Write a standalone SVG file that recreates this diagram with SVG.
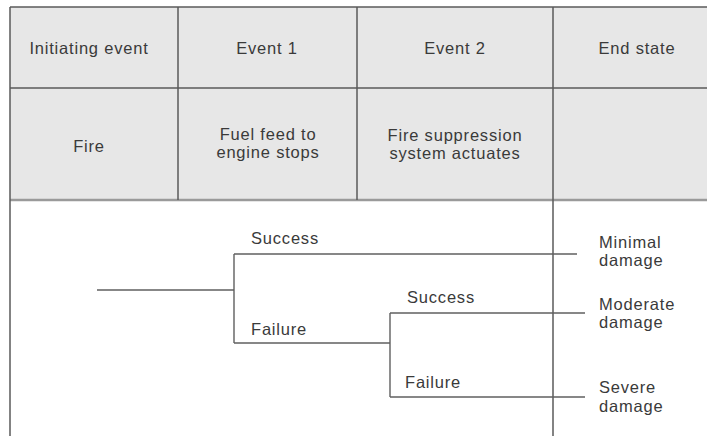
<svg xmlns="http://www.w3.org/2000/svg" width="707" height="436" viewBox="0 0 707 436">
  <style>
    .grid { stroke: #5a5a5a; stroke-width: 1.5; fill: none; }
    .branch { stroke: #5f5f5f; stroke-width: 1.4; fill: none; }
    .lbl { font-family: "Liberation Sans", Arial, sans-serif; font-size: 16.5px; letter-spacing: 0.8px; fill: #3a3a3a; }
    .mid { text-anchor: middle; }
  </style>

  <!-- background -->
  <rect x="0" y="0" width="707" height="436" fill="#ffffff"/>

  <!-- header table -->
  <g id="header">
    <rect x="10" y="7" width="697" height="193" fill="#e7e7e7"/>
    <line class="grid" x1="10" y1="7" x2="707" y2="7"/>
    <line class="grid" x1="10" y1="88" x2="707" y2="88"/>
    <line x1="10" y1="200" x2="707" y2="200" stroke="#9a9a9a" stroke-width="2.5"/>
    <line class="grid" x1="10" y1="7" x2="10" y2="436"/>
    <line class="grid" x1="178" y1="7" x2="178" y2="200"/>
    <line class="grid" x1="357" y1="7" x2="357" y2="200"/>
    <line class="grid" x1="553" y1="7" x2="553" y2="436"/>
  </g>

  <g id="col-initiating">
    <text class="lbl mid" x="89" y="54">Initiating event</text>
    <text class="lbl mid" x="89" y="152">Fire</text>
  </g>
  <g id="col-event1">
    <text class="lbl mid" x="267" y="54">Event 1</text>
    <text class="lbl mid" x="268" y="140">Fuel feed to</text>
    <text class="lbl mid" x="268" y="158">engine stops</text>
  </g>
  <g id="col-event2">
    <text class="lbl mid" x="455" y="54">Event 2</text>
    <text class="lbl mid" x="455" y="141">Fire suppression</text>
    <text class="lbl mid" x="455" y="159">system actuates</text>
  </g>
  <g id="col-end">
    <text class="lbl mid" x="637" y="54">End state</text>
  </g>

  <!-- event tree branches -->
  <g id="connectors">
    <line class="branch" x1="97" y1="290" x2="234" y2="290"/>
    <line class="branch" x1="234" y1="254" x2="234" y2="343"/>
    <line class="branch" x1="234" y1="254" x2="577" y2="254"/>
    <line class="branch" x1="234" y1="343" x2="390" y2="343"/>
    <line class="branch" x1="390" y1="313" x2="390" y2="397"/>
    <line class="branch" x1="390" y1="313" x2="585" y2="313"/>
    <line class="branch" x1="390" y1="397" x2="585" y2="397"/>
  </g>

  <g id="branch-labels">
    <text class="lbl" x="251" y="244">Success</text>
    <text class="lbl" x="251" y="335">Failure</text>
    <text class="lbl" x="407" y="303">Success</text>
    <text class="lbl" x="405" y="388">Failure</text>
  </g>

  <g id="outcome-minimal">
    <text class="lbl" x="599" y="248">Minimal</text>
    <text class="lbl" x="599" y="266">damage</text>
  </g>
  <g id="outcome-moderate">
    <text class="lbl" x="599" y="310">Moderate</text>
    <text class="lbl" x="599" y="328">damage</text>
  </g>
  <g id="outcome-severe">
    <text class="lbl" x="599" y="393">Severe</text>
    <text class="lbl" x="599" y="412">damage</text>
  </g>
</svg>
